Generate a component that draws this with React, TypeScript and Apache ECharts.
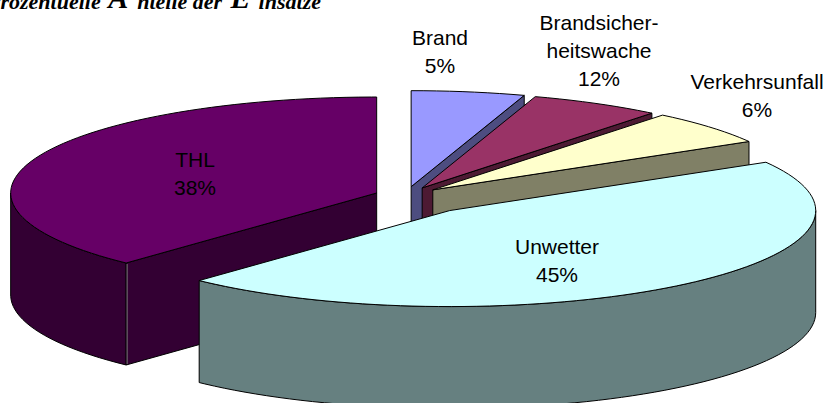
import React, { useEffect, useRef } from "react";
import * as echarts from "echarts";

// Data: slice sizes are estimated from the drawn angles; the printed labels are as shown.
const categories = ["Brand", "Brandsicher-\nheitswache", "Verkehrsunfall", "Unwetter", "THL"];
const sliceValues = [5, 5.8, 5.8, 45.4, 38];
const printedShares = ["5%", "12%", "6%", "45%", "38%"];

// Styles and layout
const topColors = ["#9999FF", "#993366", "#FFFFCC", "#CCFFFF", "#660066"];
const sideColors = ["#4D4D80", "#4D1A33", "#808066", "#668080", "#330033"];
const explosion = [36, 35, 36, 71, 31];
const labelCenters = [
  [440, 51],
  [599, 50],
  [757, 95],
  [557, 260],
  [195, 173],
];
const drawOrder = [0, 1, 2, 4, 3];
const CX = 405.5;
const CY = 196;
const RX = 366;
const RY = 96;
const DEPTH = 102;
const STEP = 2;

const total = sliceValues.reduce((a, b) => a + b, 0);
const rad = (d: number) => (d * Math.PI) / 180;

function renderItem(_params: any, api: any) {
  const i = api.value(1) as number;
  const before = sliceValues.slice(0, i).reduce((a, b) => a + b, 0);
  const start = (before / total) * 360;
  const end = ((before + (api.value(0) as number)) / total) * 360;
  const mid = (start + end) / 2;
  const ax = CX + explosion[i] * Math.sin(rad(mid));
  const ay = CY - explosion[i] * (RY / RX) * Math.cos(rad(mid));
  const pt = (deg: number, dz = 0): number[] => [
    ax + RX * Math.sin(rad(deg)),
    ay - RY * Math.cos(rad(deg)) + dz,
  ];
  const arc: number[][] = [];
  for (let d = start; d < end; d += STEP) arc.push(pt(d));
  arc.push(pt(end));

  const line = { stroke: "#000", lineWidth: 1, lineJoin: "round" };
  const children: any[] = [];
  const side = { fill: sideColors[i], ...line };

  // Only the front half of the rim (90 to 270 degrees) can be seen.
  const rimFrom = Math.max(start, 90);
  const rimTo = Math.min(end, 270);
  if (rimTo > rimFrom) {
    const upper: number[][] = [];
    const lower: number[][] = [];
    for (let d = rimFrom; d < rimTo; d += STEP) {
      upper.push(pt(d));
      lower.unshift(pt(d, DEPTH));
    }
    upper.push(pt(rimTo));
    lower.unshift(pt(rimTo, DEPTH));
    children.push({ type: "polygon", shape: { points: [...upper, ...lower] }, style: side });
  }
  const face = (deg: number) => ({
    type: "polygon",
    shape: { points: [[ax, ay], pt(deg), pt(deg, DEPTH), [ax, ay + DEPTH]] },
    style: side,
  });
  if (Math.sin(rad(end)) > 0.001) children.push(face(end));
  if (Math.sin(rad(start)) < -0.001) {
    children.push(face(start));
    const a = pt(start);
    const b = pt(start, DEPTH);
    children.push({
      type: "line",
      shape: { x1: a[0] + 1, y1: a[1] + 1, x2: b[0] + 1, y2: b[1] - 1 },
      style: { stroke: "#777", lineWidth: 1 },
    });
  }
  children.push({
    type: "polygon",
    shape: { points: [[ax, ay], ...arc] },
    style: { fill: topColors[i], ...line },
  });
  children.push({
    type: "text",
    x: labelCenters[i][0],
    y: labelCenters[i][1],
    style: {
      text: `${categories[i]}\n${printedShares[i]}`,
      font: '21px "Liberation Sans", Arial, sans-serif',
      fill: "#000",
      align: "center",
      verticalAlign: "middle",
      lineHeight: 28,
    },
  });
  return { type: "group", children };
}

export default function App() {
  const ref = useRef<HTMLDivElement>(null);
  useEffect(() => {
    document.body.style.margin = "0";
    const chart = echarts.init(ref.current!, null, { renderer: "svg" });
    chart.setOption({
      animation: false,
      backgroundColor: "#fff",
      graphic: [
        {
          type: "text",
          x: -13,
          y: 12,
          style: {
            text: "{s|Prozentuelle }{a|A}{s|nteile der }{e|E}{s|insätze}",
            verticalAlign: "bottom",
            align: "left",
            rich: {
              s: { font: 'italic bold 22px "Liberation Serif", serif', fill: "#000", verticalAlign: "bottom", lineHeight: 26 },
              a: { font: 'italic bold 30px "Liberation Serif", serif', fill: "#000", verticalAlign: "bottom", lineHeight: 26, padding: [0, 9, 0, 2] },
              e: { font: 'italic bold 30px "Liberation Serif", serif', fill: "#000", verticalAlign: "bottom", lineHeight: 26, padding: [0, 8, 0, 3] },
            },
          },
        },
      ],
      series: [
        {
          type: "custom",
          coordinateSystem: "none",
          silent: true,
          clip: false,
          renderItem,
          data: drawOrder.map((i) => [sliceValues[i], i]),
        },
      ],
    });
    return () => chart.dispose();
  }, []);
  return <div ref={ref} style={{ width: 829, height: 403, overflow: "hidden" }} />;
}
